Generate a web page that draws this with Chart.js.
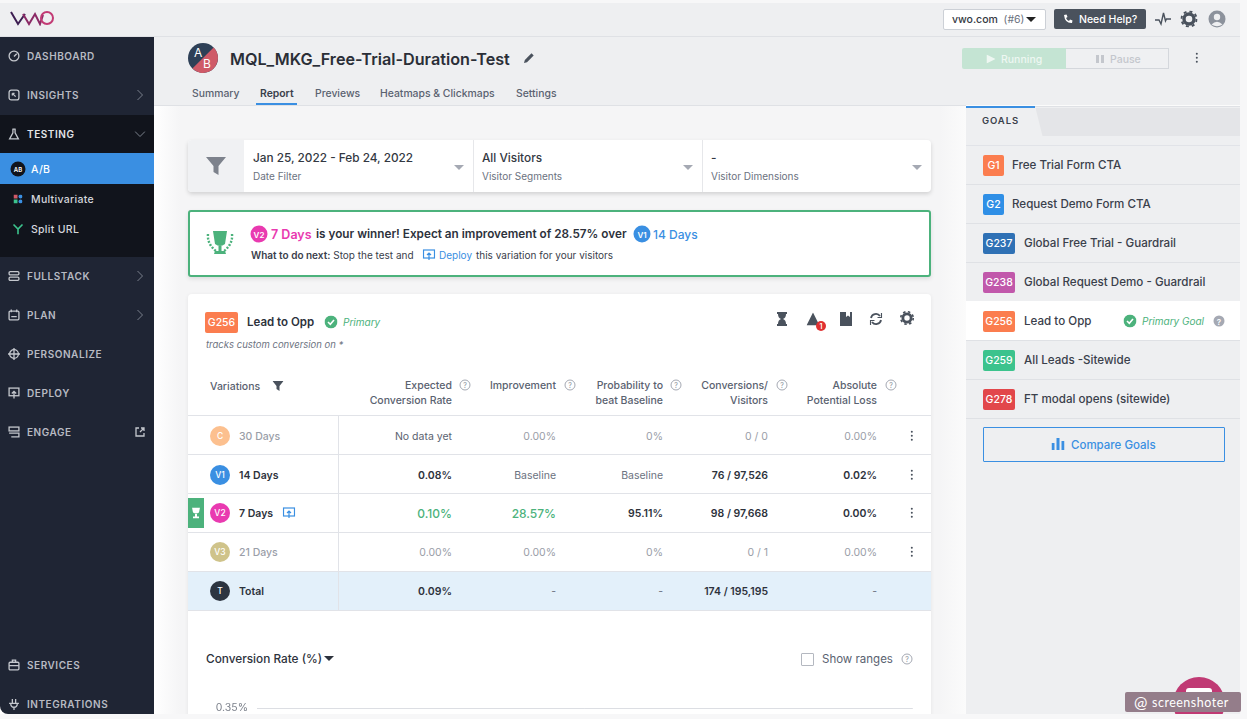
<!DOCTYPE html>
<html lang="en">
<head>
<meta charset="UTF-8">
<title>MQL_MKG_Free-Trial-Duration-Test</title>
<script src="https://cdn.jsdelivr.net/npm/chart.js"></script>
<style>
  html, body { margin: 0; height: 100%; overflow: hidden; background: #f7f7f8; font-family: Inter, "Noto Sans", sans-serif; color: #2d323c; }
  #app { position: absolute; left: 0; top: 3px; width: 1240px; height: 711px; overflow: hidden; background: linear-gradient(90deg, #fff 154px, #f5f5f6 180px, #f5f5f6 940px, #fbfbfb 966px); }
  .a { position: absolute; white-space: nowrap; }
  .mid { transform: translateY(-50%); }
  .right { transform: translate(-100%, -50%); text-align: right; }
  .dot { position: absolute; border-radius: 50%; color: #fff; font-weight: 600; display: flex; align-items: center; justify-content: center; transform: translate(-50%, -50%); }
  .nav { position: absolute; left: 27px; transform: translateY(-50%); font-size: 10px; font-weight: 600; letter-spacing: .55px; color: #b7bac2; white-space: nowrap; }
  .sub { position: absolute; left: 31px; transform: translateY(-50%); font-size: 10.5px; font-weight: 500; letter-spacing: .3px; color: #d5d7dc; white-space: nowrap; }
  .tab { position: absolute; top: 90px; transform: translateY(-50%); font-size: 10.4px; font-weight: 500; color: #5a6270; white-space: nowrap; }
  .filter-main { font-size: 11.8px; font-weight: 500; color: #333842; }
  .filter-sub { font-size: 10px; color: #6b7280; }
  .caret { position: absolute; width: 0; height: 0; border-left: 5px solid transparent; border-right: 5px solid transparent; border-top: 5px solid #a5a9b3; }
  .th { font-size: 10.5px; font-weight: 500; line-height: 14.5px; color: #5a6270; }
  .help { position: absolute; width: 9px; height: 9px; border: 1px solid #a5a9b3; border-radius: 50%; font-size: 7px; line-height: 9px; text-align: center; color: #8b909b; transform: translate(-50%, -50%); }
  .kebab { position: absolute; width: 2.4px; height: 2.4px; border-radius: 50%; background: #4a525d; box-shadow: 0 -4px 0 #4a525d, 0 4px 0 #4a525d; transform: translate(-50%, -50%); }
  .hline { position: absolute; height: 1px; background: #e1e3e8; }
  .badge { position: absolute; height: 21px; border-radius: 2px; color: #fff; font-size: 10.5px; font-weight: 500; display: flex; align-items: center; justify-content: center; }
  svg { position: absolute; transform: translate(-50%, -50%); }
</style>
</head>
<body>
<div id="app">
  <!-- top bar and page header -->
  <div class="a" style="left:0;top:0;width:1240px;height:102px;background:#eeeff1"></div>
  <div class="a" style="left:154px;top:102px;width:812px;height:1px;background:#dfe1e5"></div>
  <div class="a" style="left:0;top:33px;width:1240px;height:1px;background:#dfe1e5"></div>
  <svg style="left:33px;top:15px" width="46" height="16" viewBox="0 0 46 16" fill="none" stroke-width="2">
    <path d="M1 2 L8 14 L15 4" stroke="#3d1e52"/><path d="M13 4 L19 14 L25 4 L30 14 L33 5" stroke="#8b2a66"/><circle cx="37" cy="8" r="6" stroke="#c23a74"/>
  </svg>
  <div class="a" style="left:943px;top:6px;width:101px;height:19px;background:#fff;border:1px solid #ccd0d6;border-radius:2px"></div>
  <div class="a mid" style="left:952px;top:16px;font-size:10.5px;font-weight:500;color:#333842">vwo.com <span style="color:#6b7280;font-weight:400">&nbsp;(#6)</span></div>
  <div class="caret" style="left:1026px;top:14px;border-top-color:#222;border-top-width:5px"></div>
  <div class="a" style="left:1054px;top:6px;width:92px;height:20px;background:#4a525d;border-radius:2px"></div>
  <div class="a mid" style="left:1079px;top:16px;font-size:10.5px;font-weight:500;color:#fff">Need Help?</div>
  <svg style="left:1068px;top:16px" width="10" height="10" viewBox="0 0 10 10"><path d="M1 1 L3.5 0.5 L4.5 3 L3 4 Q4 6.5 6 7 L7 5.5 L9.5 6.5 L9 9 Q2 9.5 1 1Z" fill="#fff"/></svg>
  <svg style="left:1163px;top:16px" width="16" height="14" viewBox="0 0 16 14" fill="none" stroke="#4a525d" stroke-width="1.4"><path d="M0 8 H4 L6 12 L8.5 1 L10.5 9 L11.5 7 H16"/></svg>
  <svg style="left:1189px;top:16px" width="17" height="17" viewBox="0 0 17 17"><circle cx="8.5" cy="8.5" r="5" fill="none" stroke="#4a525d" stroke-width="3.4"/><circle cx="8.5" cy="8.5" r="7.6" fill="none" stroke="#4a525d" stroke-width="2" stroke-dasharray="3 3"/></svg>
  <svg style="left:1217px;top:16px" width="18" height="18" viewBox="0 0 18 18"><circle cx="9" cy="9" r="8.5" fill="#8c929c"/><circle cx="9" cy="7" r="3.2" fill="#eeeff1"/><path d="M3.5 14.5 Q9 9 14.5 14.5 Q9 18 3.5 14.5Z" fill="#eeeff1"/></svg>

  <!-- sidebar -->
  <div class="a" style="left:0;top:34px;width:154px;height:677px;background:#1f2534;border-bottom-left-radius:8px"></div>
  <div class="a" style="left:0;top:112px;width:154px;height:142px;background:#11141c"></div>
  <div class="a" style="left:0;top:150px;width:154px;height:31px;background:#3a8fe2"></div>
  <div id="sidebar"></div>

  <!-- title -->
  <svg style="left:203px;top:55px" width="30" height="30" viewBox="0 0 30 30"><circle cx="15" cy="15" r="15" fill="#2e4057"/><path d="M30 15 A15 15 0 0 1 4.4 25.6 L25.6 4.4 A15 15 0 0 1 30 15Z" fill="#cf5a68"/><text x="6" y="14" font-size="12" fill="#fff" font-family="Inter">A</text><text x="15" y="25" font-size="12" fill="#fff" font-family="Inter">B</text></svg>
  <div class="a mid" style="left:230px;top:56px;font-size:16.2px;font-weight:600;color:#2a2e37">MQL_MKG_Free-Trial-Duration-Test</div>
  <svg style="left:529px;top:55px" width="12" height="12" viewBox="0 0 12 12"><path d="M1 11 L1.8 8 L8.5 1.3 L10.7 3.5 L4 10.2Z" fill="#4a525d"/></svg>
  <div class="tab" style="left:192px">Summary</div>
  <div class="tab" style="left:260px;font-weight:600;color:#3a404b">Report</div>
  <div class="tab" style="left:315px">Previews</div>
  <div class="tab" style="left:380px">Heatmaps &amp; Clickmaps</div>
  <div class="tab" style="left:516px">Settings</div>
  <div class="a" style="left:256px;top:100px;width:41px;height:2px;background:#3a8fe2"></div>
  <div class="a" style="left:962px;top:45px;width:104px;height:21px;background:#c4e4d3;border-radius:2px 0 0 2px"></div>
  <div class="a" style="left:1066px;top:45px;width:102px;height:19px;border:1px solid #d4d7dc;border-left:0;background:#eff0f2"></div>
  <div class="a mid" style="left:1001px;top:56px;font-size:10.5px;font-weight:500;color:#eef7f2">Running</div>
  <div class="a mid" style="left:1110px;top:56px;font-size:10.5px;font-weight:500;color:#c4c7cd">Pause</div>
  <svg style="left:991px;top:56px" width="9" height="9" viewBox="0 0 9 9"><path d="M0 0 L9 4.5 L0 9Z" fill="#eef7f2"/></svg>
  <svg style="left:1100px;top:56px" width="8" height="8" viewBox="0 0 8 8"><path d="M0 0H3V8H0ZM5 0H8V8H5Z" fill="#c4c7cd"/></svg>
  <div class="kebab" style="left:1197px;top:55px"></div>

  <!-- filters -->
  <div class="a" style="left:188px;top:137px;width:743px;height:52px;background:#fff;border-radius:4px;box-shadow:0 2px 4px rgba(0,0,0,.15)"></div>
  <div class="a" style="left:188px;top:137px;width:56px;height:52px;background:#f0f1f3;border-radius:4px 0 0 4px"></div>
  <svg style="left:216px;top:163px" width="20" height="18" viewBox="0 0 20 18"><path d="M0 0H20L12.5 9V18L7.5 15V9Z" fill="#7d828c"/></svg>
  <div class="a" style="left:473px;top:137px;width:1px;height:52px;background:#e6e7ea"></div>
  <div class="a" style="left:702px;top:137px;width:1px;height:52px;background:#e6e7ea"></div>
  <div class="a mid filter-main" style="left:253px;top:155px">Jan 25, 2022 - Feb 24, 2022</div>
  <div class="a mid filter-sub" style="left:253px;top:173px">Date Filter</div>
  <div class="a mid filter-main" style="left:482px;top:155px">All Visitors</div>
  <div class="a mid filter-sub" style="left:482px;top:173px">Visitor Segments</div>
  <div class="a mid filter-main" style="left:711px;top:155px">-</div>
  <div class="a mid filter-sub" style="left:711px;top:173px">Visitor Dimensions</div>
  <div class="caret" style="left:454px;top:162px"></div>
  <div class="caret" style="left:683px;top:162px"></div>
  <div class="caret" style="left:912px;top:162px"></div>

  <!-- winner banner -->
  <div class="a" style="left:188px;top:207px;width:739px;height:63px;background:#fff;border:2px solid #4cb27c;border-radius:3px;box-shadow:0 2px 4px rgba(0,0,0,.1)"></div>
  <svg style="left:220px;top:240px" width="30" height="28" viewBox="0 0 30 28"><path d="M8 2H22L20 15Q15 19 10 15Z" fill="#4cb27c"/><path d="M13.5 17H16.5V22H20L21 25H9L10 22H13.5Z" fill="#4cb27c"/><path d="M3 5 Q2 15 11 22 M27 5 Q28 15 19 22" stroke="#4cb27c" stroke-width="2.4" stroke-dasharray="2 1.5" fill="none"/></svg>
  <div class="dot" style="left:259px;top:231px;width:17px;height:17px;background:#e93ab0;font-size:8px">V2</div>
  <div class="a mid" style="left:271px;top:231px;font-size:12.5px;font-weight:600;color:#e93ab0">7 Days</div>
  <div class="a mid" style="left:316px;top:231px;font-size:11.75px;font-weight:600;color:#2d323c">is your winner! Expect an improvement of 28.57% over</div>
  <div class="dot" style="left:642px;top:231px;width:17px;height:17px;background:#3a8fe2;font-size:8px">V1</div>
  <div class="a mid" style="left:653px;top:231px;font-size:12px;font-weight:500;color:#3a8fe2">14 Days</div>
  <div class="a mid" style="left:251px;top:252px;font-size:10px;color:#3a404b"><b style="font-weight:600">What to do next:</b> Stop the test and</div>
  <svg style="left:429px;top:252px" width="13" height="12" viewBox="0 0 13 12" fill="none" stroke="#3a8fe2" stroke-width="1.2"><rect x="1" y="1" width="11" height="8"/><path d="M6.5 11V4M4.5 6L6.5 4L8.5 6"/></svg>
  <div class="a mid" style="left:439px;top:252px;font-size:10px;color:#3a8fe2">Deploy</div>
  <div class="a mid" style="left:476px;top:252px;font-size:10px;color:#3a404b">this variation for your visitors</div>

  <!-- goal report card -->
  <div class="a" style="left:188px;top:291px;width:743px;height:430px;background:#fff;border-radius:4px;box-shadow:0 1px 4px rgba(0,0,0,.07)"></div>
  <div class="badge" style="left:205px;top:309px;width:33px;background:#fb7d4f">G256</div>
  <div class="a mid" style="left:247px;top:319px;font-size:11.5px;font-weight:600;color:#2d323c">Lead to Opp</div>
  <svg style="left:331px;top:319px" width="13" height="13" viewBox="0 0 13 13"><circle cx="6.5" cy="6.5" r="6.5" fill="#4cb27c"/><path d="M3.5 6.5 L5.8 8.8 L9.5 4.5" stroke="#fff" stroke-width="1.6" fill="none"/></svg>
  <div class="a mid" style="left:343px;top:319px;font-size:10px;font-style:italic;color:#4cb27c">Primary</div>
  <div class="a mid" style="left:206px;top:341px;font-size:9.5px;font-style:italic;color:#6b7280">tracks custom conversion on *</div>
  <svg style="left:782px;top:316px" width="10" height="14" viewBox="0 0 10 14"><path d="M0 0H10V2H9Q9 6 6 7 Q9 8 9 12H10V14H0V12H1Q1 8 4 7 Q1 6 1 2H0Z" fill="#4a525d"/></svg>
  <svg style="left:813px;top:316px" width="13" height="13" viewBox="0 0 13 13"><path d="M6.5 0 L13 13 H0Z" fill="#4a525d"/></svg>
  <div class="dot" style="left:821px;top:323px;width:10px;height:10px;background:#e03131;font-size:7px">1</div>
  <svg style="left:846px;top:316px" width="12" height="14" viewBox="0 0 12 14"><path d="M0 0H12V14H0Z" fill="#4a525d"/><path d="M6 0H10V5L8 3.5L6 5Z" fill="#fff"/></svg>
  <svg style="left:876px;top:316px" width="13" height="13" viewBox="0 0 13 13" fill="none" stroke="#4a525d" stroke-width="1.8"><path d="M1.5 5.5 A5 5 0 0 1 10.5 3.5 M11.5 7.5 A5 5 0 0 1 2.5 9.5"/><path d="M12 0.5V5H8M1 12.5V8H5" stroke-width="1.2"/></svg>
  <svg style="left:907px;top:315px" width="14" height="14" viewBox="0 0 17 17"><circle cx="8.5" cy="8.5" r="5" fill="none" stroke="#4a525d" stroke-width="3.4"/><circle cx="8.5" cy="8.5" r="7.6" fill="none" stroke="#4a525d" stroke-width="2" stroke-dasharray="3 3"/></svg>

  <div class="a mid th" style="left:210px;top:384px">Variations</div>
  <svg style="left:278px;top:383px" width="11" height="10" viewBox="0 0 11 10"><path d="M0 0H11L7 5V10L4 8V5Z" fill="#4a525d"/></svg>
  <div id="table"></div>

  <div class="a mid" style="left:206px;top:656px;font-size:11.8px;font-weight:500;color:#2d323c">Conversion Rate (%)</div>
  <div class="caret" style="left:324px;top:653px;border-top-color:#2d323c"></div>
  <div class="a" style="left:801px;top:650px;width:11px;height:11px;border:1px solid #b4b8c0;border-radius:1px"></div>
  <div class="a mid" style="left:822px;top:656px;font-size:11.5px;color:#5a6270">Show ranges</div>
  <div class="help" style="left:907px;top:656px">?</div>

  <!-- chart, most of it runs below the visible frame -->
  <div class="a" style="left:205px;top:690px;width:730px;height:300px"><canvas id="rateChart"></canvas></div>

  <!-- goals panel -->
  <div class="a" style="left:966px;top:103px;width:274px;height:608px;background:#eeeff1"></div>
  <div class="a" style="left:966px;top:103px;width:274px;height:1px;background:#dfe1e5"></div>
  <svg style="left:1138px;top:119px" width="205" height="28" viewBox="0 0 205 28"><path d="M0 0H205V28H7Z" fill="#e4e5e8"/></svg>
  <div class="a" style="left:966px;top:103px;width:69px;height:2px;background:#3a8fe2"></div>
  <div class="a mid" style="left:982px;top:117px;font-size:9.5px;font-weight:600;letter-spacing:.9px;color:#3a404b">GOALS</div>
  <div id="goals"></div>
  <div class="a" style="left:983px;top:424px;width:240px;height:33px;border:1.5px solid #3a8fe2;border-radius:1px"></div>
  <svg style="left:1058px;top:441px" width="13" height="12" viewBox="0 0 13 12"><path d="M0 5H3V12H0ZM5 0H8V12H5ZM10 3H13V12H10Z" fill="#3a8fe2"/></svg>
  <div class="a mid" style="left:1071px;top:441.5px;font-size:11.5px;font-weight:500;color:#3a8fe2">Compare Goals</div>

  <!-- chat bubble -->
  <div class="dot" style="left:1199px;top:700px;width:52px;height:52px;background:#c03a74"></div>
  <div class="a" style="left:1186px;top:685px;width:26px;height:18px;background:#fff;border-radius:3px"></div>
</div>
<div class="a" style="left:1125px;top:692px;width:116px;height:20px;background:#947d8a;border-radius:2px"></div>
<div class="a mid" style="left:1134px;top:701px;font-size:16px;color:#fff;font-family:Lato,sans-serif">@</div>
<div class="a mid" style="left:1152px;top:702px;font-size:12.5px;letter-spacing:.5px;color:#fff;font-family:Lato,sans-serif">screenshoter</div>

<script>
  // sidebar
  const navItems = ['DASHBOARD', 'INSIGHTS', 'TESTING', 'FULLSTACK', 'PLAN', 'PERSONALIZE', 'DEPLOY', 'ENGAGE', 'SERVICES', 'INTEGRATIONS'];
  const navCenters = [56, 95, 134, 276, 315, 354, 393, 432, 665, 704];
  const navArrows = ['INSIGHTS', 'FULLSTACK', 'PLAN'];
  const subItems = ['A/B', 'Multivariate', 'Split URL'];
  const subCenters = [169, 199, 229];

  // report table
  const headers = [['Expected', 'Conversion Rate'], ['Improvement'], ['Probability to', 'beat Baseline'], ['Conversions/', 'Visitors'], ['Absolute', 'Potential Loss']];
  const variations = ['30 Days', '14 Days', '7 Days', '21 Days', 'Total'];
  const variationTags = ['C', 'V1', 'V2', 'V3', 'T'];
  const variationColors = ['#fcc08f', '#3a8fe2', '#e93ab0', '#cfc38a', '#2c3440'];
  const expectedRate = ['No data yet', '0.08%', '0.10%', '0.00%', '0.09%'];
  const improvement = ['0.00%', 'Baseline', '28.57%', '0.00%', '-'];
  const probability = ['0%', 'Baseline', '95.11%', '0%', '-'];
  const visitors = ['0 / 0', '76 / 97,526', '98 / 97,668', '0 / 1', '174 / 195,195'];
  const potentialLoss = ['0.00%', '0.02%', '0.00%', '0.00%', '-'];

  // goals list
  const goalTags = ['G1', 'G2', 'G237', 'G238', 'G256', 'G259', 'G278'];
  const goalNames = ['Free Trial Form CTA', 'Request Demo Form CTA', 'Global Free Trial - Guardrail', 'Global Request Demo - Guardrail', 'Lead to Opp', 'All Leads -Sitewide', 'FT modal opens (sitewide)'];
  const goalColors = ['#fb7d4f', '#2f8fe6', '#2f71b5', '#c158ab', '#fb7d4f', '#3cc38d', '#e2474b'];

  // chart
  const chartCategories = ['30 Days', '14 Days', '7 Days', '21 Days'];
  const conversionRates = [0, 0.08, 0.10, 0];
  const rateTicks = [0, 0.05, 0.10, 0.15, 0.20, 0.25, 0.30, 0.35];

  // rough sidebar glyphs
  const navIcons = {
    DASHBOARD: '<circle cx="5.5" cy="5.5" r="4.5"/><path d="M5.5 6L8 3.5"/>',
    INSIGHTS: '<rect x="1" y="1" width="9" height="9" rx="2"/><path d="M4 4L7 7M4 4H6M4 4V6"/>',
    TESTING: '<path d="M4 1H7M4.5 1V4.5L1.5 10H9.5L6.5 4.5V1"/>',
    FULLSTACK: '<rect x="1" y="1.5" width="9" height="3" rx="1"/><rect x="1" y="6.5" width="9" height="3" rx="1"/>',
    PLAN: '<rect x="1" y="2" width="9" height="8" rx="1"/><path d="M3 0.5V3M8 0.5V3M3 7H8"/>',
    PERSONALIZE: '<circle cx="5.5" cy="5.5" r="4"/><path d="M5.5 0V11M0 5.5H11"/>',
    DEPLOY: '<rect x="1" y="1" width="9" height="7"/><path d="M5.5 10.5V4M3.5 6L5.5 4L7.5 6"/>',
    ENGAGE: '<rect x="1" y="1" width="9" height="3.5"/><path d="M1 6.5H10V10H3"/>',
    SERVICES: '<rect x="1" y="3" width="9" height="7" rx="1"/><path d="M4 3V1H7V3M1 6H10"/>',
    INTEGRATIONS: '<path d="M1 5H10M2.5 5Q2.5 8.5 5.5 8.5Q8.5 8.5 8.5 5M4 1V5M7 1V5M5.5 8.5V11"/>'
  };

  const OFFSET = 3; // app frame starts 3px down the page
  let html = '';
  navItems.forEach((name, i) => {
    const y = navCenters[i] - OFFSET;
    const color = name === 'TESTING' ? '#e4e5e8' : '#b7bac2';
    html += `<div class="nav" style="top:${y}px;color:${color}">${name}</div>`;
    html += `<svg style="left:14px;top:${y}px" width="12" height="12" viewBox="0 0 11 11" fill="none" stroke="#c4c7cd" stroke-width="1.2">${navIcons[name]}</svg>`;
    if (navArrows.includes(name)) html += `<svg style="left:140px;top:${y}px" width="6" height="11" viewBox="0 0 6 11" fill="none" stroke="#7b808b"><path d="M0.5 0.5L5.5 5.5L0.5 10.5"/></svg>`;
    if (name === 'TESTING') html += `<svg style="left:140px;top:${y}px" width="11" height="6" viewBox="0 0 11 6" fill="none" stroke="#7b808b"><path d="M0.5 0.5L5.5 5.5L10.5 0.5"/></svg>`;
    if (name === 'ENGAGE') html += `<svg style="left:140px;top:${y}px" width="10" height="10" viewBox="0 0 10 10" fill="none" stroke="#c4c7cd" stroke-width="1.3"><path d="M4 1H1V9H9V6M5 5L9 1M6 1H9V4"/></svg>`;
  });
  subItems.forEach((name, i) => {
    const y = subCenters[i] - OFFSET;
    html += `<div class="sub" style="top:${y}px;color:${i === 0 ? '#fff' : '#d5d7dc'}">${name}</div>`;
  });
  html += `<div class="dot" style="left:18px;top:${169 - OFFSET}px;width:15px;height:15px;background:#11141c;font-size:6px">AB</div>`;
  html += `<svg style="left:18px;top:${199 - OFFSET}px" width="9" height="9" viewBox="0 0 9 9"><rect width="4" height="4" fill="#cf5a68"/><rect x="5" width="4" height="4" rx="2" fill="#3a8fe2"/><rect y="5" width="4" height="4" fill="#3cc38d"/><rect x="5" y="5" width="4" height="4" rx="2" fill="#3a8fe2"/></svg>`;
  html += `<svg style="left:18px;top:${229 - OFFSET}px" width="11" height="11" viewBox="0 0 11 11" fill="none" stroke="#3cc38d" stroke-width="1.6"><path d="M1 1L5.5 5.5L10 1M5.5 5.5V11"/></svg>`;
  document.getElementById('sidebar').innerHTML = html;

  // table header, rows and cells
  const colRight = [452, 556, 663, 768, 877];
  const colHelp = [465, 570, 676, 782, 891];
  const rowCenters = [436, 475, 513, 552, 591];
  const rowBorders = [415, 454, 493, 532, 571, 610];
  const columns = [expectedRate, improvement, probability, visitors, potentialLoss];
  html = '';
  headers.forEach((lines, c) => {
    const y = lines.length === 1 ? 383 : 390;
    html += `<div class="a right th" style="left:${colRight[c]}px;top:${y}px">${lines.join('<br>')}</div>`;
    html += `<div class="help" style="left:${colHelp[c]}px;top:382px">?</div>`;
  });
  html += `<div class="a" style="left:188px;top:${571 - OFFSET}px;width:743px;height:39px;background:#e3f0fa"></div>`;
  rowBorders.forEach(y => { html += `<div class="hline" style="left:188px;width:743px;top:${y - OFFSET}px"></div>`; });
  html += `<div class="a" style="left:338px;top:${415 - OFFSET}px;width:1px;height:195px;background:#e1e3e8"></div>`;
  variations.forEach((name, r) => {
    const y = rowCenters[r] - OFFSET;
    const muted = r === 0 || r === 3;
    html += `<div class="dot" style="left:220px;top:${y}px;width:20px;height:20px;background:${variationColors[r]};font-size:8.5px;font-weight:500">${variationTags[r]}</div>`;
    html += `<div class="a mid" style="left:239px;top:${y}px;font-size:10.5px;font-weight:${muted ? 500 : 600};color:${muted ? '#9a9ea8' : '#2d323c'}">${name}</div>`;
    if (r < 4) html += `<div class="kebab" style="left:912px;top:${y}px"></div>`;
    columns.forEach((col, c) => {
      let color = muted ? '#9a9ea8' : '#2d323c', weight = muted ? 400 : 600, size = 10.5;
      if (col[r] === 'Baseline') { color = '#6b7280'; weight = 400; }
      if (r === 0 && c === 0) color = '#5a6270';
      if (r === 2 && c < 2) { color = '#4cb27c'; weight = 500; size = 12; }
      if (r === 4 && col[r] === '-') { color = '#6b7280'; weight = 400; }
      html += `<div class="a right" style="left:${colRight[c]}px;top:${y}px;font-size:${size}px;font-weight:${weight};color:${color}">${col[r]}</div>`;
    });
  });
  html += `<div class="a" style="left:188px;top:${498 - OFFSET}px;width:16px;height:30px;background:#4cb27c"></div>`;
  html += `<svg style="left:196px;top:${513 - OFFSET}px" width="10" height="11" viewBox="0 0 10 11"><path d="M1 0H9L8 5Q5 7 2 5ZM4 6.5H6V9H8V11H2V9H4Z" fill="#fff"/></svg>`;
  html += `<svg style="left:289px;top:${513 - OFFSET}px" width="13" height="12" viewBox="0 0 13 12" fill="none" stroke="#3a8fe2" stroke-width="1.2"><rect x="1" y="1" width="11" height="8"/><path d="M6.5 11V4M4.5 6L6.5 4L8.5 6"/></svg>`;
  document.getElementById('table').innerHTML = html;

  // goals
  html = `<div class="hline" style="left:966px;width:274px;top:${145 - OFFSET}px"></div>`;
  goalNames.forEach((name, i) => {
    const y = 165 + i * 39 - OFFSET;
    const short = goalTags[i].length < 3;
    if (name === 'Lead to Opp') html += `<div class="a" style="left:966px;top:${y - 20}px;width:274px;height:39px;background:#fff"></div>`;
    html += `<div class="badge" style="left:983px;top:${y - 10.5}px;width:${short ? 21 : 32}px;background:${goalColors[i]}">${goalTags[i]}</div>`;
    html += `<div class="a mid" style="left:${short ? 1012 : 1024}px;top:${y}px;font-size:11.6px;font-weight:500;color:#3a404b">${name}</div>`;
    html += `<div class="hline" style="left:966px;width:274px;top:${y + 19}px;background:#dfe1e5"></div>`;
    if (name === 'Lead to Opp') {
      html += `<svg style="left:1130px;top:${y}px" width="13" height="13" viewBox="0 0 13 13"><circle cx="6.5" cy="6.5" r="6.5" fill="#4cb27c"/><path d="M3.5 6.5 L5.8 8.8 L9.5 4.5" stroke="#fff" stroke-width="1.6" fill="none"/></svg>`;
      html += `<div class="a mid" style="left:1142px;top:${y}px;font-size:10px;font-style:italic;color:#4cb27c">Primary Goal</div>`;
      html += `<div class="dot" style="left:1219px;top:${y}px;width:11px;height:11px;background:#a5a9b3;font-size:8px">?</div>`;
    }
  });
  document.getElementById('goals').innerHTML = html;

  new Chart(document.getElementById('rateChart'), {
    type: 'line',
    data: {
      labels: chartCategories,
      datasets: [{
        label: 'Conversion Rate (%)',
        data: conversionRates,
        borderColor: '#3a8fe2',
        backgroundColor: '#3a8fe2',
        borderWidth: 2,
        pointRadius: 3
      }]
    },
    options: {
      responsive: true,
      maintainAspectRatio: false,
      animation: false,
      layout: { padding: { top: 10, right: 0 } },
      plugins: { legend: { display: false }, tooltip: { enabled: false } },
      scales: {
        y: {
          min: rateTicks[0],
          max: rateTicks[rateTicks.length - 1],
          afterBuildTicks: axis => { axis.ticks = rateTicks.map(v => ({ value: v })); },
          afterFit: axis => { axis.width = 52; },
          border: { display: false },
          grid: { color: '#dcdee3', tickLength: 0 },
          ticks: {
            color: '#7d828c',
            padding: 9,
            font: { family: 'Inter', size: 10.5 },
            callback: v => v.toFixed(2) + '%'
          }
        },
        x: {
          grid: { display: false },
          ticks: { color: '#7d828c', font: { family: 'Inter', size: 10.5 } }
        }
      }
    }
  });
</script>
</body>
</html>
